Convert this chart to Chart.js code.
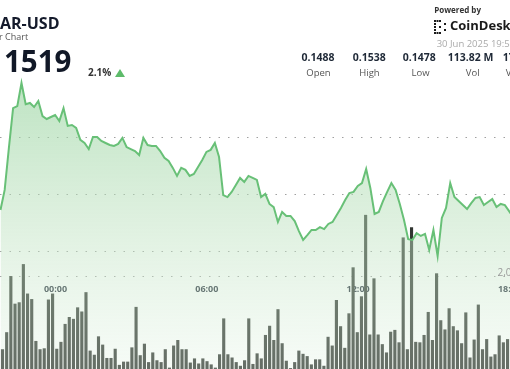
<!DOCTYPE html>
<html><head><meta charset="utf-8">
<script src="https://cdn.jsdelivr.net/npm/chart.js@4.4.1/dist/chart.umd.min.js"></script>
<style>
html,body{margin:0;padding:0;background:#fff;width:510px;height:369px;overflow:hidden;font-family:"Open Sans","Noto Sans",sans-serif;}
#wrap{position:relative;width:510px;height:369px;overflow:hidden;}
#c{position:absolute;left:0;top:0;}
.t{position:absolute;white-space:nowrap;line-height:1;}
.c{text-align:center;width:70px;}
</style></head><body>
<div id="wrap">
<canvas id="c" width="510" height="369"></canvas>
<div class="t" style="left:0;top:14.7px;font-size:16px;font-weight:700;color:#141a2b">AR-USD</div>
<div class="t" style="left:-1px;top:32.4px;font-size:9px;color:#555">r Chart</div>
<div class="t" style="left:4px;top:45.9px;font-size:29.5px;font-weight:700;color:#111827">1519</div>
<div class="t" style="left:88px;top:67.3px;font-size:10px;font-weight:700;color:#333">2.1%</div>
<div class="t" style="left:114.5px;top:68.5px;width:0;height:0;border-left:5px solid transparent;border-right:5px solid transparent;border-bottom:8px solid #5dbb6a"></div>

<div class="t" style="left:434.3px;top:5.6px;font-size:8px;font-weight:700;color:#333">Powered by</div>
<svg class="t" style="left:434px;top:20px" width="14" height="14" viewBox="0 0 14 14">
<g fill="#1a1a1a"><rect x="0" y="0" width="2" height="2"/><rect x="2.5" y="0" width="2" height="2"/><rect x="5" y="0" width="2" height="2"/><rect x="0" y="3" width="2" height="2"/><rect x="0" y="6" width="2" height="2"/><rect x="0" y="9" width="2" height="2"/><rect x="0" y="12" width="2" height="2"/><rect x="2.5" y="12" width="2" height="2"/><rect x="5" y="12" width="2" height="2"/><rect x="10" y="3" width="2" height="2"/><rect x="10" y="9" width="2" height="2"/><rect x="5" y="6" width="2" height="2"/></g></svg>
<div class="t" style="left:450px;top:19.2px;font-size:13px;font-weight:700;color:#1a1a1a">CoinDesk</div>
<div class="t" style="left:436.7px;top:38.6px;font-size:9.5px;color:#aaa">30 Jun 2025 19:56</div>

<div class="t c" style="left:283px;top:52.2px;font-size:10.5px;font-weight:700;color:#1f2937">0.1488</div>
<div class="t c" style="left:334.2px;top:52.2px;font-size:10.5px;font-weight:700;color:#1f2937">0.1538</div>
<div class="t c" style="left:384.2px;top:52.2px;font-size:10.5px;font-weight:700;color:#1f2937">0.1478</div>
<div class="t c" style="left:435.7px;top:52.2px;font-size:10.5px;font-weight:700;color:#1f2937">113.82 M</div>
<div class="t" style="left:502.7px;top:52.2px;font-size:10.5px;font-weight:700;color:#1f2937">17.07 M</div>
<div class="t c" style="left:283.5px;top:67.6px;font-size:9.5px;color:#555">Open</div>
<div class="t c" style="left:334.5px;top:67.6px;font-size:9.5px;color:#555">High</div>
<div class="t c" style="left:385.5px;top:67.6px;font-size:9.5px;color:#555">Low</div>
<div class="t c" style="left:437.7px;top:67.6px;font-size:9.5px;color:#555">Vol</div>
<div class="t" style="left:505.7px;top:67.6px;font-size:9.5px;color:#555">Vol (USD)</div>
</div>
<script>
// ---- data ----
const priceStartHour = -2.1816;   // hours relative to 00:00
const priceStepHour = 1 / 6;      // 10 minutes
const prices = [
0.14946,0.15016,0.15163,0.15302,0.15309,0.15390,0.15316,0.15320,0.15306,0.15327,
0.15274,0.15264,0.15271,0.15278,0.15257,0.15302,0.15240,0.15243,0.15233,0.15191,
0.15180,0.15159,0.15201,0.15201,0.15187,0.15180,0.15173,0.15170,0.15177,0.15198,
0.15166,0.15159,0.15152,0.15138,0.15198,0.15173,0.15170,0.15170,0.15152,0.15128,
0.15117,0.15093,0.15065,0.15093,0.15086,0.15065,0.15072,0.15096,0.15121,0.15149,
0.15156,0.15180,0.15131,0.14998,0.14991,0.15009,0.15033,0.15058,0.15044,0.15065,
0.15058,0.15051,0.14991,0.15002,0.14967,0.14956,0.14904,0.14939,0.14925,0.14925,
0.14907,0.14872,0.14841,0.14858,0.14876,0.14876,0.14886,0.14879,0.14897,0.14904,
0.14928,0.14953,0.14981,0.15005,0.15009,0.15030,0.15040,0.15089,0.15022,0.14932,
0.14939,0.14977,0.15009,0.15040,0.15016,0.14967,0.14911,0.14844,0.14841,0.14865,
0.14855,0.14862,0.14806,0.14876,0.14785,0.14918,0.14953,0.15040,0.14991,0.14977,
0.14963,0.14949,0.14970,0.14988,0.14991,0.14963,0.14974,0.14984,0.14956,0.14967,
0.14963,0.14942,0.14921];
const barStartHour = -2.1015;
const barStepHour = 0.1655;
const volumesM = [
0.43,0.80,2.02,1.42,1.45,2.28,1.64,1.52,0.61,0.43,
0.45,1.51,1.64,0.44,0.59,0.98,1.13,1.09,1.34,1.25,
1.67,0.40,0.31,0.71,0.53,0.24,0.24,0.44,0.09,0.16,
0.16,0.47,1.35,0.30,0.55,0.15,0.36,0.19,0.15,0.43,
0.03,0.51,0.63,0.43,0.43,0.14,0.23,0.12,0.23,0.17,
0.10,0.03,0.32,1.10,0.32,0.25,0.15,0.07,0.19,1.10,
0.11,0.34,0.23,0.74,0.94,0.63,1.30,0.56,0.18,0.02,
0.15,0.40,0.33,0.28,0.10,0.21,0.21,0.07,0.70,0.51,
1.50,0.93,0.46,1.21,2.21,0.80,1.58,3.35,0.75,1.97,
0.75,0.54,0.36,0.81,0.85,0.58,2.86,0.43,3.08,0.59,
0.58,0.74,1.24,0.63,2.08,1.06,0.86,1.32,0.93,0.84,
0.56,1.23,0.25,0.64,1.40,0.43,0.65,0.27,0.32,0.73,
0.58,0.65];
const hourTicks = [0, 6, 12, 18];
const hourLabels = ['00:00', '06:00', '12:00', '18:00'];
const priceGrid = [0.148, 0.150, 0.152];
const volGridM = [2];

// ---- view window ----
const xMin = -2.2006, xMax = 18.0214;
const priceMin = 0.1438986, priceMax = 0.156801;
const volMin = 0, volMax = 8.02;

const linePts = prices.map((p, i) => ({x: priceStartHour + i * priceStepHour, y: p}));
const barPts = volumesM.map((v, i) => ({x: barStartHour + i * barStepHour, y: v}));

const gridOpts = {color: '#a0a0a0', lineWidth: 1, drawTicks: false};
const borderOpts = {display: false, dash: [1.5, 8]};

const volLabel = {
  id: 'volLabel',
  afterDatasetsDraw(chart) {
    const s = chart.scales.vol, c = chart.ctx;
    c.save();
    c.font = '10px "Open Sans"';
    c.fillStyle = '#9a9a9a';
    c.textAlign = 'left';
    c.textBaseline = 'alphabetic';
    volGridM.forEach(v => c.fillText((v * 1e6).toLocaleString('en-US'), 497.5, s.getPixelForValue(v) - 0.5));
    c.restore();
  }
};

new Chart(document.getElementById('c'), {
  data: {
    datasets: [
      {
        type: 'bar', label: 'Volume', data: barPts, yAxisID: 'vol', xAxisID: 'x', order: 2,
        backgroundColor: 'rgb(48,53,48)', borderWidth: 0,
        barPercentage: 0.75, categoryPercentage: 1
      },
      {
        type: 'line', label: 'Price', data: linePts, yAxisID: 'price', xAxisID: 'x', order: 1,
        borderColor: '#68c077', borderWidth: 2, pointRadius: 0, tension: 0,
        fill: 'start',
        backgroundColor: (ctx) => {
          const ch = ctx.chart, area = ch.chartArea;
          if (!area) return 'rgba(180,222,185,0.5)';
          const g = ch.ctx.createLinearGradient(0, area.top + 80, 0, area.bottom);
          g.addColorStop(0, 'rgba(148,210,156,0.62)');
          g.addColorStop(0.5, 'rgba(188,225,190,0.48)');
          g.addColorStop(1, 'rgba(225,242,226,0.3)');
          return g;
        }
      }
    ]
  },
  options: {
    responsive: false, animation: false, devicePixelRatio: 1,
    layout: {padding: 0},
    plugins: {legend: {display: false}, tooltip: {enabled: false}},
    scales: {
      x: {
        type: 'linear', min: xMin, max: xMax, offset: false, position: {vol: volGridM[0]}, z: 2,
        grid: {display: false, drawTicks: false, offset: false}, border: {display: false},
        afterBuildTicks: s => { s.ticks = hourTicks.map(v => ({value: v})); },
        afterFit: s => { s.paddingLeft = 0; s.paddingRight = 0; },
        ticks: {
          autoSkip: false, maxRotation: 0, padding: 7, color: '#222a38',
          font: {family: '"Open Sans"', size: 9, weight: 'bold'},
          callback: v => hourLabels[hourTicks.indexOf(v)]
        }
      },
      price: {
        type: 'linear', position: 'left', min: priceMin, max: priceMax, z: 1,
        grid: gridOpts, border: borderOpts, ticks: {display: false},
        afterBuildTicks: s => { s.ticks = priceGrid.map(v => ({value: v})); }
      },
      vol: {
        type: 'linear', position: 'right', min: volMin, max: volMax, z: 1,
        grid: gridOpts, border: borderOpts, ticks: {display: false},
        afterBuildTicks: s => { s.ticks = volGridM.map(v => ({value: v})); }
      }
    }
  },
  plugins: [volLabel]
});
</script>
</body></html>
